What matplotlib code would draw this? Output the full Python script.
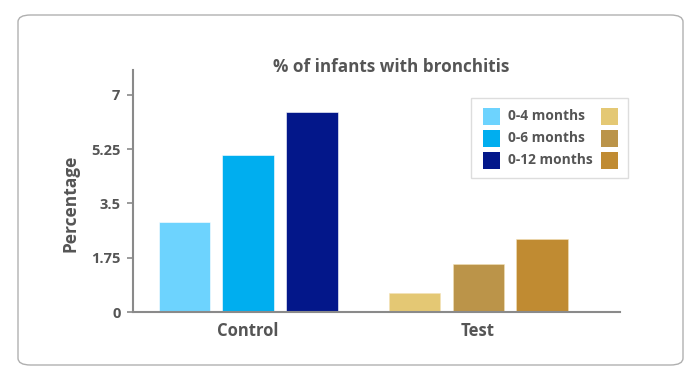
import matplotlib.pyplot as plt
from matplotlib.patches import FancyBboxPatch, Rectangle
import numpy as np

# ---------------- data ----------------
groups = ["Control", "Test"]
age_labels = ["0-4 months", "0-6 months", "0-12 months"]
control_vals = [2.9, 5.05, 6.45]
test_vals = [0.6, 1.55, 2.35]
yticks = [0, 1.75, 3.5, 5.25, 7]
ytick_labels = ["0", "1.75", "3.5", "5.25", "7"]

blue_colors = ["#6DD3FE", "#00AEEF", "#03178A"]
gold_colors = ["#E4C874", "#BB9449", "#C08B32"]

TXT = "#555555"
AX = "#8a8a8a"

plt.rcParams['font.family'] = ['Open Sans', 'DejaVu Sans']

W, H = 700, 380
fig = plt.figure(figsize=(7, 3.8), dpi=100)

def px(x, y):
    # pixel coords (from top-left) -> figure fraction
    return x / W, 1 - y / H

# outer rounded border
x0, y0 = px(18, 365)
x1, y1 = px(683, 15)
fig.add_artist(FancyBboxPatch((x0, y0), x1 - x0, y1 - y0,
                              boxstyle="round,pad=0,rounding_size=0.018",
                              transform=fig.transFigure, fill=False,
                              edgecolor="#b0b0b0", linewidth=1.0))

# axes: left 133, right 620, top 70, bottom 312
ax = fig.add_axes([133 / W, 1 - 312 / H, (620 - 133) / W, (312 - 70) / H])

centers = np.arange(len(groups))
width = 0.222
offsets = [-0.278, 0, 0.278]
for i in range(3):
    ax.bar(centers[0] + offsets[i], control_vals[i], width,
           color=blue_colors[i], edgecolor="white", linewidth=0.4)
    ax.bar(centers[1] + offsets[i], test_vals[i], width,
           color=gold_colors[i], edgecolor="#f3e2b8", linewidth=0.4)

ax.set_xlim(-0.5, 1.617)
ax.set_ylim(0, 7.8)
ax.set_yticks(yticks)
ax.set_yticklabels(ytick_labels)
ax.set_xticks(centers)
ax.set_xticklabels(groups)

for s in ["top", "right"]:
    ax.spines[s].set_visible(False)
for s in ["left", "bottom"]:
    ax.spines[s].set_color(AX)
    ax.spines[s].set_linewidth(1.5)

ax.tick_params(axis="y", length=4, width=1.2, color=AX, pad=5,
               labelsize=10.5, labelcolor=TXT)
ax.tick_params(axis="x", length=0, pad=7, labelsize=12, labelcolor=TXT)
for t in ax.get_yticklabels() + ax.get_xticklabels():
    t.set_fontweight("bold")

ax.set_ylabel("Percentage", fontsize=12.5, fontweight="bold", color=TXT,
              va="center")
ax.yaxis.set_label_coords(-0.129, 0.45)

fig.text(391 / W, 1 - 67 / H, "% of infants with bronchitis",
         ha="center", va="center", fontsize=12.3, fontweight="bold", color=TXT)

# legend box (manual: blue patch, label, gold patch)
lx0, ly0 = px(471, 178)
lx1, ly1 = px(628, 98)
fig.add_artist(Rectangle((lx0, ly0), lx1 - lx0, ly1 - ly0,
                         transform=fig.transFigure, fill=True,
                         facecolor="white", edgecolor="#dddddd", linewidth=1.0))
row_tops = [108, 130, 152]
for i, lab in enumerate(age_labels):
    top = row_tops[i]
    bx, by = px(483, top + 17)
    fig.add_artist(Rectangle((bx, by), 17 / W, 17 / H,
                             transform=fig.transFigure,
                             facecolor=blue_colors[i], edgecolor="none"))
    gx, gy = px(601, top + 17)
    fig.add_artist(Rectangle((gx, gy), 17 / W, 17 / H,
                             transform=fig.transFigure,
                             facecolor=gold_colors[i], edgecolor="none"))
    tx, ty = px(508, top + 8.5)
    fig.text(tx, ty, lab, ha="left", va="center", fontsize=9.9,
             fontweight="bold", color=TXT)

plt.savefig("out.png", dpi=100)
